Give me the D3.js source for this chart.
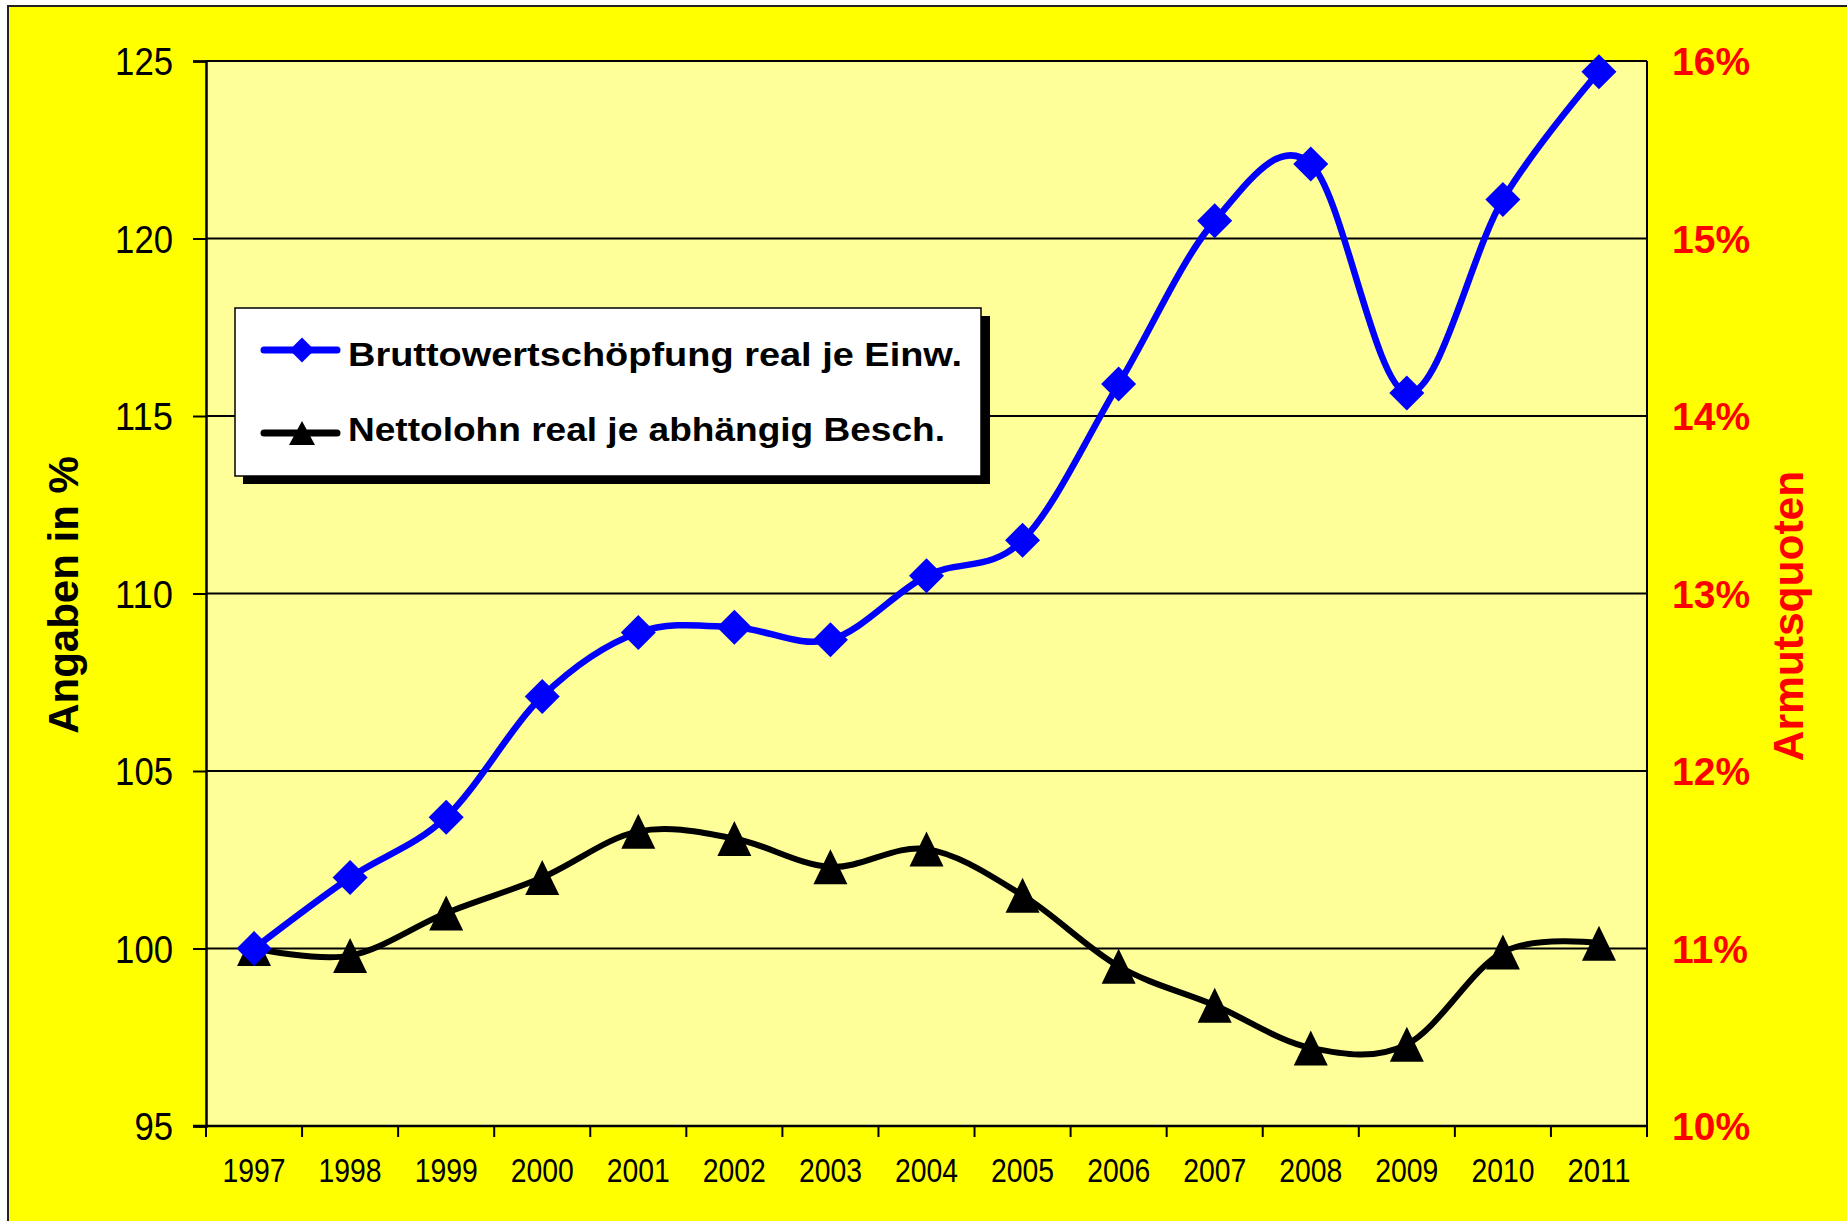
<!DOCTYPE html>
<html>
<head>
  <meta charset="utf-8">
  <title>Bruttowertschöpfung und Nettolohn</title>
  <script src="https://d3js.org/d3.v7.min.js"></script>
  <style>
    body, html {
      margin: 0;
      padding: 0;
      background: #fff;
      overflow: hidden;
    }
    svg {
      display: block;
    }
    text {
      font-family: "Liberation Sans", Arial, sans-serif;
    }
  </style>
</head>
<body>
  <svg id="chart"></svg>
  <script>
    // values
    var years = ["1997", "1998", "1999", "2000", "2001", "2002", "2003", "2004",
                 "2005", "2006", "2007", "2008", "2009", "2010", "2011"];
    var brutto = [100.0, 102.0, 103.7, 107.1, 108.9, 109.05, 108.7, 110.5,
                  111.5, 115.9, 120.5, 122.1, 115.65, 121.1, 124.7];
    var netto = [100.0, 99.8, 101.0, 102.0, 103.3, 103.1, 102.3, 102.8,
                 101.5, 99.5, 98.4, 97.2, 97.3, 99.9, 100.15];
    var leftTicks = [95, 100, 105, 110, 115, 120, 125];
    var rightTicks = [10, 11, 12, 13, 14, 15, 16];
    var seriesNames = ["Bruttowertschöpfung real je Einw.", "Nettolohn real je abhängig Besch."];

    var width = 1847, height = 1221;
    var plot = { left: 206, right: 1647, top: 61, bottom: 1126 };

    var svg = d3.select("#chart")
      .attr("width", width)
      .attr("height", height);

    // outer chart area
    svg.append("rect")
      .attr("x", 8).attr("y", 6)
      .attr("width", width).attr("height", height)
      .attr("fill", "#ffff00")
      .attr("stroke", "#222")
      .attr("stroke-width", 2);

    var x = d3.scaleBand()
      .domain(years)
      .range([plot.left, plot.right])
      .padding(0);

    var y = d3.scaleLinear()
      .domain([95, 125])
      .range([plot.bottom, plot.top]);

    var yRight = d3.scaleLinear()
      .domain([10, 16])
      .range([plot.bottom, plot.top]);

    // plot area
    svg.append("rect")
      .attr("x", plot.left).attr("y", plot.top)
      .attr("width", plot.right - plot.left)
      .attr("height", plot.bottom - plot.top)
      .attr("fill", "#ffff99");

    // gridlines
    svg.append("g")
      .selectAll("line")
      .data(leftTicks.slice(1))
      .join("line")
      .attr("x1", plot.left).attr("x2", plot.right)
      .attr("y1", d => y(d)).attr("y2", d => y(d))
      .attr("stroke", "#000")
      .attr("stroke-width", 2);

    // right border
    svg.append("line")
      .attr("x1", plot.right).attr("x2", plot.right)
      .attr("y1", plot.top).attr("y2", plot.bottom)
      .attr("stroke", "#000").attr("stroke-width", 2);

    // left axis
    var yAxis = svg.append("g")
      .attr("transform", "translate(" + plot.left + ",0)")
      .call(d3.axisLeft(y).tickValues(leftTicks).tickSize(13).tickPadding(20));
    yAxis.select(".domain").attr("stroke-width", 2.5);
    yAxis.selectAll(".tick line").attr("stroke-width", 2);
    yAxis.selectAll(".tick text")
      .attr("font-size", 39)
      .attr("font-family", "'Liberation Sans', Arial, sans-serif")
      .attr("fill", "#000")
      .attr("dy", "0.35em")
      .attr("textLength", d => String(d).length * 19.3)
      .attr("lengthAdjust", "spacingAndGlyphs");

    // bottom axis, ticks between the categories
    var xAxis = svg.append("g")
      .attr("transform", "translate(0," + plot.bottom + ")")
      .call(d3.axisBottom(x).tickSize(0).tickPadding(44));
    xAxis.select(".domain").remove();
    xAxis.selectAll(".tick text")
      .attr("font-size", 33.5)
      .attr("font-family", "'Liberation Sans', Arial, sans-serif")
      .attr("fill", "#000")
      .attr("dy", "0.35em")
      .attr("textLength", 63)
      .attr("lengthAdjust", "spacingAndGlyphs");

    var bounds = years.map(d => x(d)).concat([plot.right]);
    svg.append("line")
      .attr("x1", plot.left - 13).attr("x2", plot.right)
      .attr("y1", plot.bottom).attr("y2", plot.bottom)
      .attr("stroke", "#000").attr("stroke-width", 2.5);
    svg.append("g")
      .selectAll("line")
      .data(bounds)
      .join("line")
      .attr("x1", d => d).attr("x2", d => d)
      .attr("y1", plot.bottom).attr("y2", plot.bottom + 11)
      .attr("stroke", "#000").attr("stroke-width", 2);

    // right axis labels (red percent)
    svg.append("g")
      .selectAll("text")
      .data(rightTicks)
      .join("text")
      .attr("x", plot.right + 25)
      .attr("y", d => yRight(d) + 14)
      .attr("fill", "#ff0000")
      .attr("font-size", 39)
      .attr("font-weight", "bold")
      .text(d => d + "%");

    // axis titles
    svg.append("text")
      .attr("transform", "translate(78,595) rotate(-90)")
      .attr("text-anchor", "middle")
      .attr("font-size", 42)
      .attr("font-weight", "bold")
      .attr("fill", "#000")
      .text("Angaben in %");

    svg.append("text")
      .attr("transform", "translate(1803,616) rotate(-90)")
      .attr("text-anchor", "middle")
      .attr("font-size", 42.5)
      .attr("font-weight", "bold")
      .attr("fill", "#ff0000")
      .text("Armutsquoten");

    // lines, Excel style smoothing
    var line = d3.line()
      .x((d, i) => x(years[i]) + x.bandwidth() / 2)
      .y(d => y(d))
      .curve(d3.curveCardinal.tension(0));

    var diamond = function(s) {
      return "M0," + (-s) + "L" + s + ",0L0," + s + "L" + (-s) + ",0Z";
    };
    var triangle = function(w, h) {
      return "M0," + (-h / 2) + "L" + (w / 2) + "," + (h / 2) + "L" + (-w / 2) + "," + (h / 2) + "Z";
    };

    svg.append("path")
      .datum(netto)
      .attr("d", line)
      .attr("fill", "none")
      .attr("stroke", "#000")
      .attr("stroke-width", 6)
      .attr("stroke-linejoin", "round");

    svg.append("path")
      .datum(brutto)
      .attr("d", line)
      .attr("fill", "none")
      .attr("stroke", "#0000ff")
      .attr("stroke-width", 6.5)
      .attr("stroke-linejoin", "round");

    svg.append("g")
      .selectAll("path")
      .data(netto)
      .join("path")
      .attr("transform", (d, i) => "translate(" + (x(years[i]) + x.bandwidth() / 2) + "," + y(d) + ")")
      .attr("d", triangle(34, 35))
      .attr("fill", "#000");

    svg.append("g")
      .selectAll("path")
      .data(brutto)
      .join("path")
      .attr("transform", (d, i) => "translate(" + (x(years[i]) + x.bandwidth() / 2) + "," + y(d) + ")")
      .attr("d", diamond(17.5))
      .attr("fill", "#0000ff");

    // legend
    var legend = svg.append("g");
    legend.append("rect")
      .attr("x", 243).attr("y", 316)
      .attr("width", 747).attr("height", 168)
      .attr("fill", "#000");
    legend.append("rect")
      .attr("x", 235).attr("y", 308)
      .attr("width", 746).attr("height", 168)
      .attr("fill", "#fff")
      .attr("stroke", "#000")
      .attr("stroke-width", 1.5);

    var rows = [
      { name: seriesNames[0], color: "#0000ff", cy: 350, base: 366, len: 614, shape: diamond(12.5) },
      { name: seriesNames[1], color: "#000", cy: 433, base: 441, len: 597, shape: triangle(26, 24) }
    ];
    var item = legend.selectAll(".item")
      .data(rows)
      .join("g")
      .attr("class", "item");
    item.append("line")
      .attr("x1", 264).attr("x2", 337)
      .attr("y1", d => d.cy).attr("y2", d => d.cy)
      .attr("stroke", d => d.color)
      .attr("stroke-width", 7)
      .attr("stroke-linecap", "round");
    item.append("path")
      .attr("transform", d => "translate(302," + d.cy + ")")
      .attr("d", d => d.shape)
      .attr("fill", d => d.color);
    item.append("text")
      .attr("x", 348)
      .attr("y", d => d.base)
      .attr("font-size", 34)
      .attr("font-weight", "bold")
      .attr("fill", "#000")
      .attr("textLength", d => d.len)
      .attr("lengthAdjust", "spacingAndGlyphs")
      .text(d => d.name);
  </script>
</body>
</html>
